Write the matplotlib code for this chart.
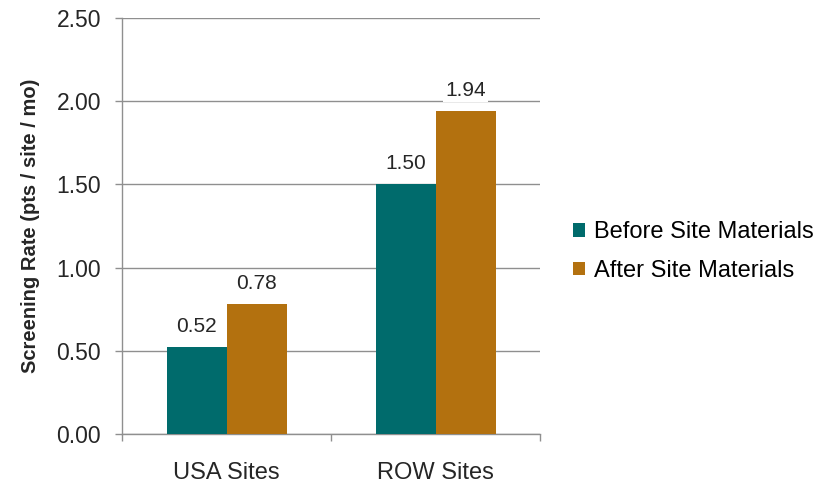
import numpy as np
import matplotlib
matplotlib.use('Agg')
import matplotlib.pyplot as plt
from matplotlib.patches import Patch

# Données
categories = ['USA Sites', 'ROW Sites']
series_names = ['Before Site Materials', 'After Site Materials']
before_vals = [0.52, 1.50]
after_vals = [0.78, 1.94]
y_ticks = [0.0, 0.5, 1.0, 1.5, 2.0, 2.5]

plt.rcParams['font.family'] = ['Liberation Sans', 'DejaVu Sans']

colors = ['#006b6c', '#b3710f']
txt = '#262626'

fig = plt.figure(figsize=(8.21, 4.84), dpi=100)
ax = fig.add_axes([0.1486, 0.1033, 0.5095, 0.8595])

x = np.arange(len(categories))
w = 0.287
bars_b = ax.bar(x - w / 2, before_vals, w, color=colors[0], zorder=3)
bars_a = ax.bar(x + w / 2, after_vals, w, color=colors[1], zorder=3)

# étiquettes des valeurs
for bars in (bars_b, bars_a):
    for b in bars:
        ax.annotate(f'{b.get_height():.2f}', (b.get_x() + b.get_width() / 2, b.get_height()),
                    xytext=(0, 8), textcoords='offset points', ha='center', va='bottom',
                    fontsize=15, color=txt, zorder=4,
                    bbox=dict(facecolor='white', edgecolor='none', pad=1.5))

ax.set_xlim(-0.5, len(categories) - 0.5)
ax.set_ylim(0, 2.5)
ax.set_yticks(y_ticks)
ax.set_yticklabels([f'{v:.2f}' for v in y_ticks], fontsize=16.5, color=txt)
ax.yaxis.grid(True, color='#8f8f8f', linewidth=1.0, zorder=0)
ax.set_axisbelow(True)

ax.set_xticks(x)
ax.set_xticklabels(categories, fontsize=17, color=txt)
ax.tick_params(axis='x', which='major', length=0, pad=20)
ax.set_xticks(np.arange(-0.5, len(categories)), minor=True)
ax.tick_params(axis='x', which='minor', length=5, color='#8f8f8f', width=1.0)
ax.tick_params(axis='y', length=5, color='#8f8f8f', width=1.0, pad=10)

for s in ['top', 'right']:
    ax.spines[s].set_visible(False)
for s in ['left', 'bottom']:
    ax.spines[s].set_color('#8f8f8f')
    ax.spines[s].set_linewidth(1.0)

ax.set_ylabel('Screening Rate (pts / site / mo)', fontsize=14.5, fontweight='bold',
              color=txt, labelpad=12)

handles = [Patch(facecolor=c, edgecolor='none') for c in colors]
fig.legend(handles, series_names, loc='center left', bbox_to_anchor=(0.672, 0.48),
           frameon=False, fontsize=17, handlelength=0.5, handleheight=0.5,
           handletextpad=0.4, labelspacing=0.7)

fig.savefig('out.png', dpi=100, facecolor='white')
